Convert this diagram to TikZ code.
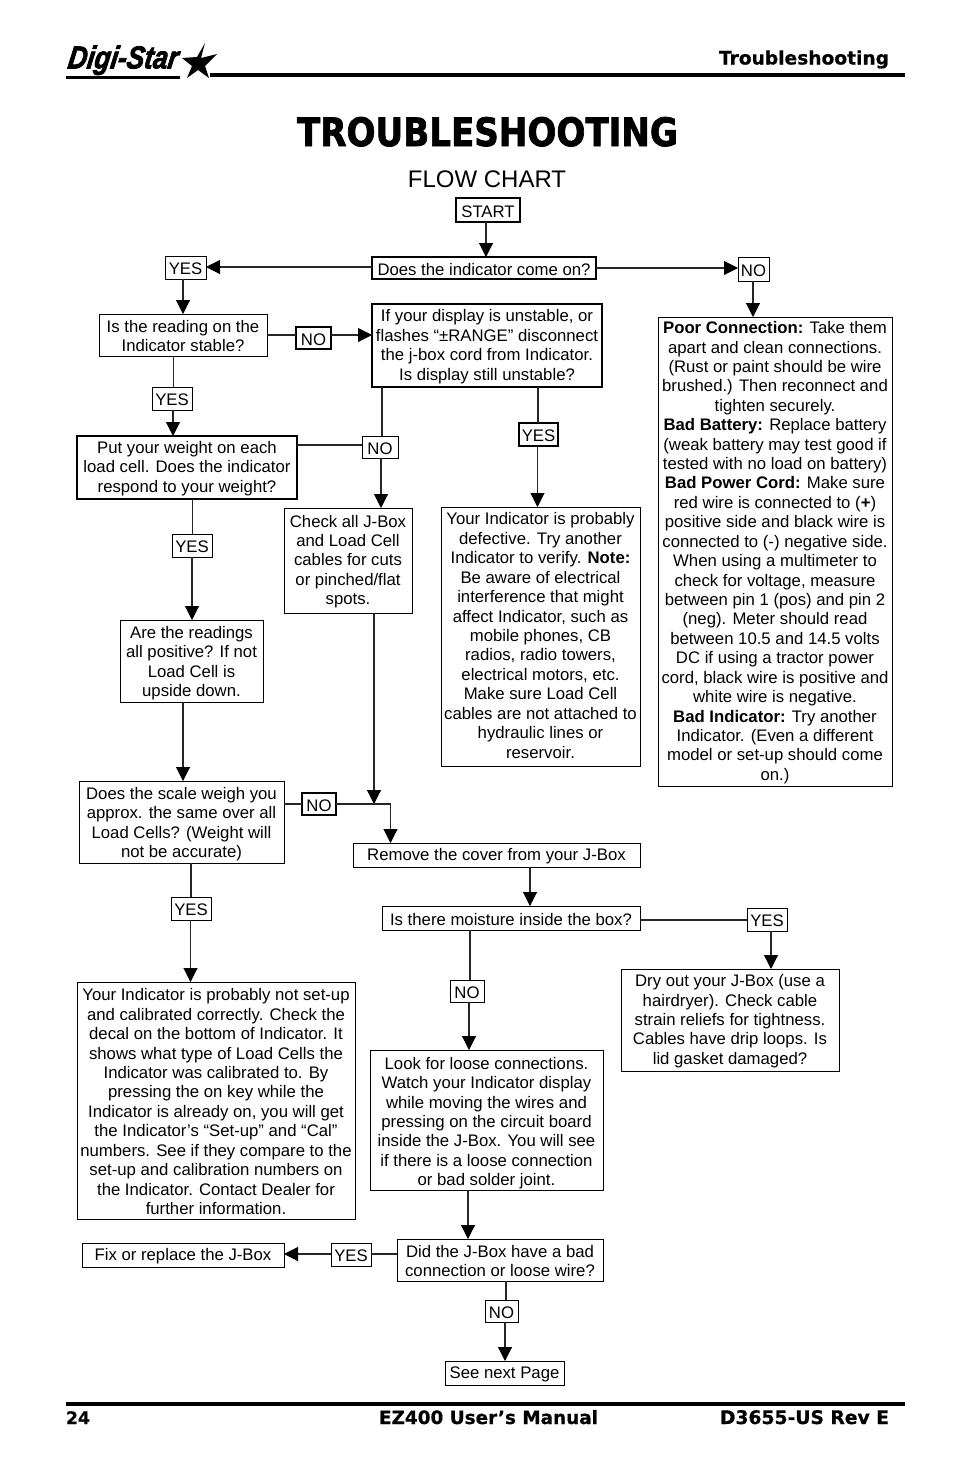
\documentclass[tikz,border=0pt]{standalone}
\usepackage{fontspec}
\usepackage{graphicx}
\setmainfont{Liberation Sans}
\newfontfamily\widefont{DejaVu Sans Bold}[FakeBold=0.6]
\newfontfamily\blackfont{DejaVu Sans Bold}[FakeBold=2]
\newfontfamily\logofont{Liberation Sans Bold Italic}[FakeBold=2.5]
\usetikzlibrary{arrows.meta,calc}
\definecolor{ln}{gray}{0.15}
\newlength{\pxu}\setlength{\pxu}{0.75pt}
\tikzset{
  base/.style={draw=black,inner sep=0pt,outer sep=0pt,align=center,text=black,font=\fontsize{12.55}{14.57}\selectfont},
  thin box/.style={base,line width=0.72pt},
  thick box/.style={base,line width=1.25pt},
  link/.style={draw=ln,line width=0.8pt},
  arr/.style={link,-{Triangle[width=10.5pt,length=10.5pt,color=black]}},
  rulebar/.style={draw=black,line width=3pt},
  lab/.style={inner sep=0pt,outer sep=0pt,text=black},
}
\newcommand{\nbx}[7][thin box]{%
  \pgfmathsetmacro{\bw}{(#5-#3)*0.75}%
  \pgfmathsetmacro{\bh}{(#6-#4)*0.75}%
  \node[#1,minimum width=\bw pt,minimum height=\bh pt] (#2) at ({(#3+#5)/2},{(#4+#6)/2}) {\rule{0pt}{10.8pt}#7};}
\begin{document}
\begin{tikzpicture}[x=0.75pt,y=-0.75pt]
\useasboundingbox (0,0) rectangle (954,1475);
% header
\node[lab,anchor=south west,xslant=0.15,transform shape] (logo) at (66,75) {\resizebox{110\pxu}{23\pxu}{\logofont Digi-Star}};
\coordinate (lu1) at (66,77.5);\coordinate (lu2) at (180,77.5);
\draw[black,line width=1.6pt] (lu1) -- (lu2);
\fill[black] (205,43) -- (201,58) -- (217,54) -- (205,66) -- (209,78) -- (198,70) -- (187,78) -- (192,66) -- (182,58) -- (197,57) -- cycle;
\coordinate (h1) at (210,74.5);\coordinate (h2) at (905,74.5);
\draw[rulebar] (h1) -- (h2);
\node[lab,anchor=base east] (hdr) at (889,64.5) {\resizebox{170\pxu}{!}{\widefont Troubleshooting}};
\node[lab,anchor=base] (title) at (487.5,146) {\resizebox{381\pxu}{29\pxu}{\blackfont TROUBLESHOOTING}};
\node[lab,anchor=base,font=\fontsize{18}{20}\selectfont] (flow) at (487,187) {FLOW CHART};
% boxes
\nbx[thick box]{start}{456}{198}{520}{222}{START}
\nbx[thick box]{does}{372}{257}{596}{279}{Does the indicator come on?}
\nbx{yesa}{165}{256}{206}{279}{YES}
\nbx{noa}{738}{257}{769}{281}{NO}
\nbx{reading}{99}{314}{267}{356}{Is the reading on the\\Indicator stable?}
\nbx[thick box]{nob}{296}{327}{331}{349}{NO}
\nbx[thick box]{unstable}{372}{304}{602}{387}{If your display is unstable, or\\flashes “±RANGE” disconnect\\the j-box cord from Indicator.\\Is display still unstable?}
\nbx{yesb}{152}{387}{192}{410}{YES}
\nbx[thick box]{put}{77}{436}{297}{499}{Put your weight on each\\load cell. Does the indicator\\respond to your weight?}
\nbx{noc}{362}{436}{398}{458}{NO}
\nbx[thick box]{yesc}{519}{423}{558}{446}{YES}
\nbx{check}{284}{508}{412}{613}{Check all J-Box\\and Load Cell\\cables for cuts\\or pinched/flat\\spots.}
\nbx{defect}{441}{507}{640}{766}{Your Indicator is probably\\defective. Try another\\Indicator to verify. \textbf{Note:}\\Be aware of electrical\\interference that might\\affect Indicator, such as\\mobile phones, CB\\radios, radio towers,\\electrical motors, etc.\\Make sure Load Cell\\cables are not attached to\\hydraulic lines or\\reservoir.\rule[-3.4pt]{0pt}{3.4pt}}
\nbx{yesd}{172}{534}{212}{557}{YES}
\nbx{are}{120}{620}{263}{702}{\rule{0pt}{12.6pt}Are the readings\\all positive? If not\\Load Cell is\\upside down.}
\nbx{poor}{658}{317}{892}{786}{\textbf{Poor Connection:} Take them\\apart and clean connections.\\(Rust or paint should be wire\\brushed.) Then reconnect and\\tighten securely.\\\textbf{Bad Battery:} Replace battery\\(weak battery may test good if\\tested with no load on battery)\\\textbf{Bad Power Cord:} Make sure\\red wire is connected to (\textbf{+})\\positive side and black wire is\\connected to (-) negative side.\\When using a multimeter to\\check for voltage, measure\\between pin 1 (pos) and pin 2\\(neg). Meter should read\\between 10.5 and 14.5 volts\\DC if using a tractor power\\cord, black wire is positive and\\white wire is negative.\\\textbf{Bad Indicator:} Try another\\Indicator. (Even a different\\model or set-up should come\\on.)}
\nbx{scale}{79}{781}{284}{863}{\rule{0pt}{12.6pt}Does the scale weigh you\\approx. the same over all\\Load Cells? (Weight will\\not be accurate)}
\nbx[thick box]{nod}{302}{793}{336}{815}{NO}
\nbx{remove}{353}{843}{640}{867}{Remove the cover from your J-Box}
\nbx{moist}{382}{906}{640}{930}{Is there moisture inside the box?}
\nbx{yese}{747}{908}{787}{931}{YES}
\nbx{yesf}{171}{897}{211}{920}{YES}
\nbx{noe}{450}{980}{484}{1002}{NO}
\nbx{dry}{621}{969}{839}{1071}{Dry out your J-Box (use a\\hairdryer). Check cable\\strain reliefs for tightness.\\Cables have drip loops. Is\\lid gasket damaged?}
\nbx{setup}{77}{982}{355}{1219}{Your Indicator is probably not set-up\\and calibrated correctly. Check the\\decal on the bottom of Indicator. It\\shows what type of Load Cells the\\Indicator was calibrated to. By\\pressing the on key while the\\Indicator is already on, you will get\\the Indicator’s “Set-up” and “Cal”\\numbers. See if they compare to the\\set-up and calibration numbers on\\the Indicator. Contact Dealer for\\further information.}
\nbx{look}{370}{1050}{603}{1190}{\rule{0pt}{13.8pt}Look for loose connections.\\Watch your Indicator display\\while moving the wires and\\pressing on the circuit board\\inside the J-Box. You will see\\if there is a loose connection\\or bad solder joint.}
\nbx{did}{397}{1239}{603}{1281}{Did the J-Box have a bad\\connection or loose wire?}
\nbx{yesg}{331}{1243}{371}{1266}{YES}
\nbx{fix}{82}{1243}{284}{1267}{Fix or replace the J-Box}
\nbx{nof}{485}{1300}{518}{1322}{NO}
\nbx{see}{445}{1361}{564}{1385}{See next Page}
% connectors
\draw[arr] (start.south -| 486,0) -- (does.north -| 486,0);
\draw[arr] (does.west |- 0,267) -- (yesa.east |- 0,267);
\draw[arr] (does.east |- 0,268) -- (noa.west |- 0,268);
\draw[arr] (noa.south -| 753,0) -- (poor.north -| 753,0);
\draw[arr] (yesa.south -| 183,0) -- (reading.north -| 183,0);
\draw[link] (reading.east |- 0,335) -- (nob.west |- 0,335);
\draw[arr] (nob.east |- 0,335) -- (unstable.west |- 0,335);
\draw[link] (reading.south -| 173.5,0) -- (yesb.north -| 173.5,0);
\draw[arr] (yesb.south -| 173,0) -- (put.north -| 173,0);
\draw[link] (put.east |- 0,445) -- (noc.west |- 0,445);
\draw[link] (unstable.south -| 382,0) -- (noc.north -| 382,0);
\draw[arr] (noc.south -| 381,0) -- (check.north -| 381,0);
\draw[link] (unstable.south -| 538,0) -- (yesc.north -| 538,0);
\draw[arr] (yesc.south -| 537.5,0) -- (defect.north -| 537.5,0);
\draw[link] (put.south -| 192.5,0) -- (yesd.north -| 192.5,0);
\draw[arr] (yesd.south -| 192,0) -- (are.north -| 192,0);
\draw[arr] (are.south -| 183,0) -- (scale.north -| 183,0);
\coordinate (join) at (374,804);
\draw[arr] (check.south -| join) -- (join);
\draw[link] (scale.east |- join) -- (nod.west |- join);
\draw[arr] (nod.east |- join) -- (390.5,804) -- (remove.north -| 390.5,0);
\draw[arr] (remove.south -| 530,0) -- (moist.north -| 530,0);
\draw[link] (moist.east |- 0,920) -- (yese.west |- 0,920);
\draw[arr] (yese.south -| 771,0) -- (dry.north -| 771,0);
\draw[link] (moist.south -| 470,0) -- (noe.north -| 470,0);
\draw[arr] (noe.south -| 469,0) -- (look.north -| 469,0);
\draw[link] (scale.south -| 191,0) -- (yesf.north -| 191,0);
\draw[arr] (yesf.south -| 190.5,0) -- (setup.north -| 190.5,0);
\draw[arr] (look.south -| 468,0) -- (did.north -| 468,0);
\draw[link] (did.west |- 0,1254) -- (yesg.east |- 0,1254);
\draw[arr] (yesg.west |- 0,1254) -- (fix.east |- 0,1254);
\draw[link] (did.south -| 506,0) -- (nof.north -| 506,0);
\draw[arr] (nof.south -| 505,0) -- (see.north -| 505,0);
% footer
\coordinate (f1) at (66,1404);\coordinate (f2) at (905,1404);
\draw[rulebar] (f1) -- (f2);
\node[lab,anchor=base west] (page) at (66,1424) {\resizebox{24\pxu}{!}{\widefont 24}};
\node[lab,anchor=base west] (man) at (379,1424) {\resizebox{219\pxu}{!}{\widefont EZ400 User’s Manual}};
\node[lab,anchor=base east] (rev) at (889,1424) {\resizebox{169\pxu}{!}{\widefont D3655-US Rev E}};
\end{tikzpicture}
\end{document}
